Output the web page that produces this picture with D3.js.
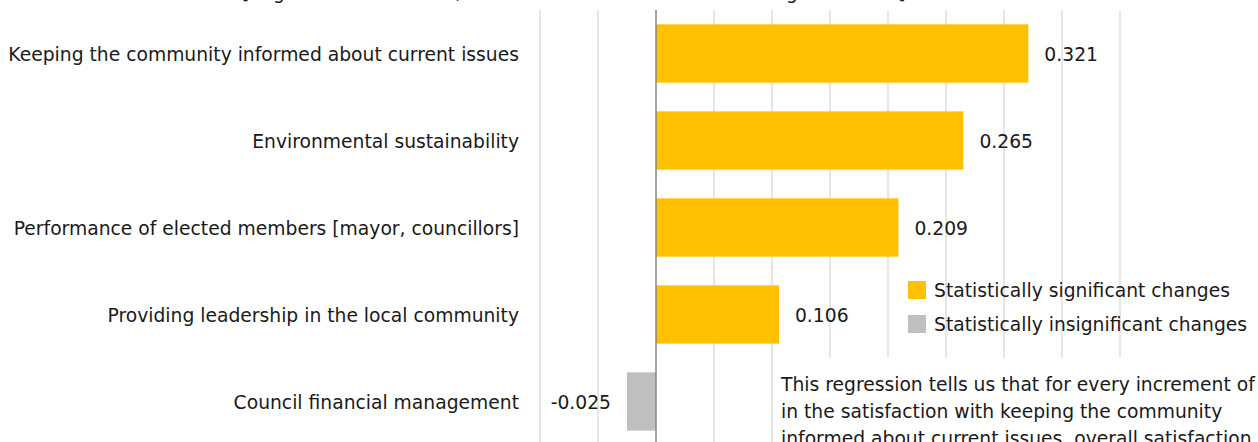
<!DOCTYPE html>
<html>
<head>
<meta charset="utf-8">
<script src="https://cdn.jsdelivr.net/npm/d3@7"></script>
<style>
  html, body { margin: 0; padding: 0; background: #fff; }
  svg { display: block; }
  text { font-family: "DejaVu Sans", sans-serif; fill: #1a1a1a; }
</style>
</head>
<body>
<svg id="chart" width="1258" height="442"></svg>
<script>
// Drivers of overall satisfaction (regression coefficients)
const categories = [
  "Keeping the community informed about current issues",
  "Environmental sustainability",
  "Performance of elected members [mayor, councillors]",
  "Providing leadership in the local community",
  "Council financial management"
];
const coefficients = [0.321, 0.265, 0.209, 0.106, -0.025];
const significant = [true, true, true, true, false];
const xTicks = [-0.1, -0.05, 0, 0.05, 0.1, 0.15, 0.2, 0.25, 0.3, 0.35, 0.4];
const legendLabels = ["Statistically significant changes", "Statistically insignificant changes"];
const titleText = "[Regression coefficient, with overall satisfaction as the target variable]";
const noteLines = [
  "This regression tells us that for every increment of",
  "in the satisfaction with keeping the community",
  "informed about current issues, overall satisfaction"
];

const colors = { sig: "#ffc000", insig: "#bfbfbf", grid: "#d9d9d9", axis: "#868686" };

const svg = d3.select("#chart");
const W = 1258, H = 442;
const plot = { left: 540, right: 1120, top: 10, bottom: 445 };

// pick a font size so the longest category label spans about 511px
const probe = svg.append("text").attr("font-size", 18).text(categories[0]);
const fs = 18 * 511 / probe.node().getComputedTextLength();
probe.remove();

const x = d3.scaleLinear().domain([-0.1, 0.4]).range([plot.left, plot.right]);
const y = d3.scaleBand().domain(categories).range([plot.top, plot.bottom]).paddingInner(0.33).paddingOuter(0.165);
const fmt = v => d3.format(".3f")(v).replace("\u2212", "-");

// partially visible heading above the plot
svg.append("text")
  .attr("x", 242).attr("y", -1)
  .attr("font-size", fs)
  .text(titleText);

// vertical gridlines
svg.append("g").selectAll("line")
  .data(xTicks.filter(t => t !== 0))
  .join("line")
  .attr("x1", d => x(d)).attr("x2", d => x(d))
  .attr("y1", plot.top).attr("y2", plot.bottom)
  .attr("stroke", colors.grid).attr("stroke-width", 1.3);

// bars
svg.append("g").selectAll("rect")
  .data(categories)
  .join("rect")
  .attr("x", (d, i) => x(Math.min(0, coefficients[i])))
  .attr("width", (d, i) => Math.abs(x(coefficients[i]) - x(0)))
  .attr("y", d => y(d))
  .attr("height", y.bandwidth())
  .attr("fill", (d, i) => significant[i] ? colors.sig : colors.insig);

// zero axis line
svg.append("line")
  .attr("x1", x(0)).attr("x2", x(0))
  .attr("y1", plot.top).attr("y2", plot.bottom)
  .attr("stroke", colors.axis).attr("stroke-width", 1.5);

// category labels
svg.append("g").selectAll("text")
  .data(categories)
  .join("text")
  .attr("x", 519)
  .attr("y", d => y(d) + y.bandwidth() / 2)
  .attr("dy", "0.4em")
  .attr("text-anchor", "end")
  .attr("font-size", fs)
  .text(d => d);

// value labels
svg.append("g").selectAll("text")
  .data(categories)
  .join("text")
  .attr("x", (d, i) => coefficients[i] >= 0 ? x(coefficients[i]) + 16 : x(coefficients[i]) - 16)
  .attr("y", d => y(d) + y.bandwidth() / 2)
  .attr("dy", "0.4em")
  .attr("text-anchor", (d, i) => coefficients[i] >= 0 ? "start" : "end")
  .attr("font-size", fs)
  .text((d, i) => fmt(coefficients[i]));

// legend
const legend = svg.append("g").attr("transform", "translate(908,281)");
legendLabels.forEach((label, i) => {
  const g = legend.append("g").attr("transform", `translate(0,${i * 34})`);
  g.append("rect").attr("width", 18).attr("height", 18)
    .attr("fill", i === 0 ? colors.sig : colors.insig);
  g.append("text").attr("x", 26).attr("y", 9).attr("dy", "0.38em")
    .attr("font-size", fs).text(label);
});

// explanatory note box
svg.append("rect")
  .attr("x", 775).attr("y", 358).attr("width", W - 775).attr("height", H - 358)
  .attr("fill", "#fff");
svg.append("g").selectAll("text")
  .data(noteLines)
  .join("text")
  .attr("x", 781)
  .attr("y", (d, i) => 391 + i * 27)
  .attr("font-size", fs)
  .text(d => d);
</script>
</body>
</html>
